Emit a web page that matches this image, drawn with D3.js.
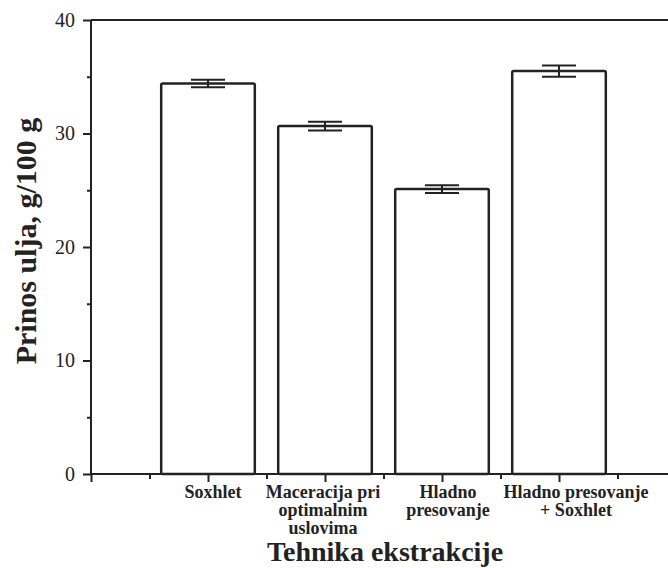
<!DOCTYPE html>
<html lang="en">
    <head>
	<meta charset="utf-8">
	<title>Prinos ulja</title>
	<script src="https://d3js.org/d3.v7.min.js" charset="utf-8"></script>
	<style>
	 body { margin: 0; background: #fff; }
	</style>
    </head>
    <body>
	<script type="text/javascript">

	 //Data
	 var categories = [["Soxhlet"], ["Maceracija pri", "optimalnim", "uslovima"], ["Hladno", "presovanje"], ["Hladno presovanje", "+ Soxhlet"]];
	 var yields = [34.4, 30.65, 25.1, 35.5];
	 var errors = [0.33, 0.38, 0.35, 0.5];
	 var yTicks = [0, 10, 20, 30, 40];

	 var W = 668, H = 568;
	 var mLeft = 91, mTop = 20, mBottom = 474;
	 var serif = "'Liberation Serif', 'Times New Roman', serif";
	 //labels sit a little right of their ticks in the original
	 var labelNudge = [5, -2, 6, 17];

	 var svg = d3.select("body").append("svg")
		     .attr("width", W)
		     .attr("height", H)
		     .style("font-family", serif);

	 //x is linear: category i sits at i+1
	 var xScale = d3.scaleLinear().domain([0, 5]).range([mLeft, mLeft + 585]);
	 var yScale = d3.scaleLinear().domain([0, 40]).range([mBottom, mTop]);
	 var bw = xScale(0.8) - xScale(0);

	 var ink = "#222";

	 //Top frame line
	 svg.append("line")
	    .attr("x1", mLeft).attr("x2", W)
	    .attr("y1", yScale(40)).attr("y2", yScale(40))
	    .attr("stroke", ink).attr("stroke-width", 2);

	 //Bars
	 svg.selectAll("rect.bar")
	    .data(yields)
	    .enter()
	    .append("rect")
	    .attr("class", "bar")
	    .attr("x", function (d, i) { return xScale(i + 1) - bw / 2; })
	    .attr("y", function (d) { return yScale(d); })
	    .attr("width", bw)
	    .attr("height", function (d) { return yScale(0) - yScale(d); })
	    .attr("rx", 1.5)
	    .style("fill", "white")
	    .style("stroke", ink)
	    .style("stroke-width", 2.5);

	 //Error bars
	 var eb = svg.selectAll("g.err")
		     .data(yields)
		     .enter()
		     .append("g")
		     .attr("class", "err")
		     .attr("stroke", ink)
		     .attr("stroke-width", 2);
	 eb.append("line")
	   .attr("x1", function (d, i) { return xScale(i + 1); })
	   .attr("x2", function (d, i) { return xScale(i + 1); })
	   .attr("y1", function (d, i) { return yScale(d + errors[i]); })
	   .attr("y2", function (d, i) { return yScale(d - errors[i]); });
	 [1, -1].forEach(function (s) {
	     eb.append("line")
	       .attr("x1", function (d, i) { return xScale(i + 1) - 17; })
	       .attr("x2", function (d, i) { return xScale(i + 1) + 17; })
	       .attr("y1", function (d, i) { return yScale(d + s * errors[i]); })
	       .attr("y2", function (d, i) { return yScale(d + s * errors[i]); });
	 });

	 //Y axis
	 var yAxis = svg.append("g")
			.attr("transform", "translate(" + mLeft + ",0)")
			.call(d3.axisLeft(yScale).tickValues(yTicks).tickSize(8).tickPadding(8));
	 svg.append("g")
	    .attr("transform", "translate(" + mLeft + ",0)")
	    .call(d3.axisLeft(yScale).tickValues([5, 15, 25, 35]).tickSize(4).tickFormat(""))
	    .select(".domain").remove();

	 //X axis
	 var xAxis = svg.append("g")
			.attr("transform", "translate(0," + mBottom + ")")
			.call(d3.axisBottom(xScale).tickValues([0, 1, 2, 3, 4]).tickSize(8).tickFormat(""));
	 svg.append("g")
	    .attr("transform", "translate(0," + mBottom + ")")
	    .call(d3.axisBottom(xScale).tickValues([0.5, 1.5, 2.5, 3.5, 4.5]).tickSize(5).tickFormat(""))
	    .select(".domain").remove();

	 svg.selectAll(".domain").attr("stroke", ink).attr("stroke-width", 2);
	 svg.selectAll(".tick line").attr("stroke", ink).attr("stroke-width", 2);
	 yAxis.selectAll(".tick text")
	      .style("font-family", serif)
	      .style("font-size", "20px")
	      .attr("fill", ink);
	 //Extend axis lines to picture edges
	 xAxis.select(".domain").attr("d", "M" + mLeft + ",0H" + W);
	 yAxis.select(".domain").attr("d", "M0," + yScale(0) + "V" + yScale(40));

	 //Category labels
	 var lab = svg.selectAll("text.cat")
		      .data(categories)
		      .enter()
		      .append("text")
		      .attr("class", "cat")
		      .attr("text-anchor", "middle")
		      .style("font-family", serif)
		      .style("font-size", "18px")
		      .style("font-weight", "bold")
		      .attr("fill", ink)
		      .attr("x", function (d, i) { return xScale(i + 1) + labelNudge[i]; })
		      .attr("y", 498);
	 lab.selectAll("tspan")
	    .data(function (d) { return d; })
	    .enter()
	    .append("tspan")
	    .attr("x", function () { return d3.select(this.parentNode).attr("x"); })
	    .attr("dy", function (d, j) { return j === 0 ? 0 : 18; })
	    .text(function (d) { return d; });

	 //Axis titles
	 svg.append("text")
	    .attr("x", 385)
	    .attr("y", 561)
	    .attr("text-anchor", "middle")
	    .style("font-family", serif)
	    .style("font-size", "28px")
	    .style("font-weight", "bold")
	    .attr("fill", ink)
	    .text("Tehnika ekstrakcije");

	 svg.append("text")
	    .attr("transform", "translate(36,241) rotate(-90)")
	    .attr("text-anchor", "middle")
	    .style("font-family", serif)
	    .style("font-size", "30px")
	    .style("font-weight", "bold")
	    .attr("fill", ink)
	    .text("Prinos ulja, g/100 g");

	</script>
    </body>
</html>
